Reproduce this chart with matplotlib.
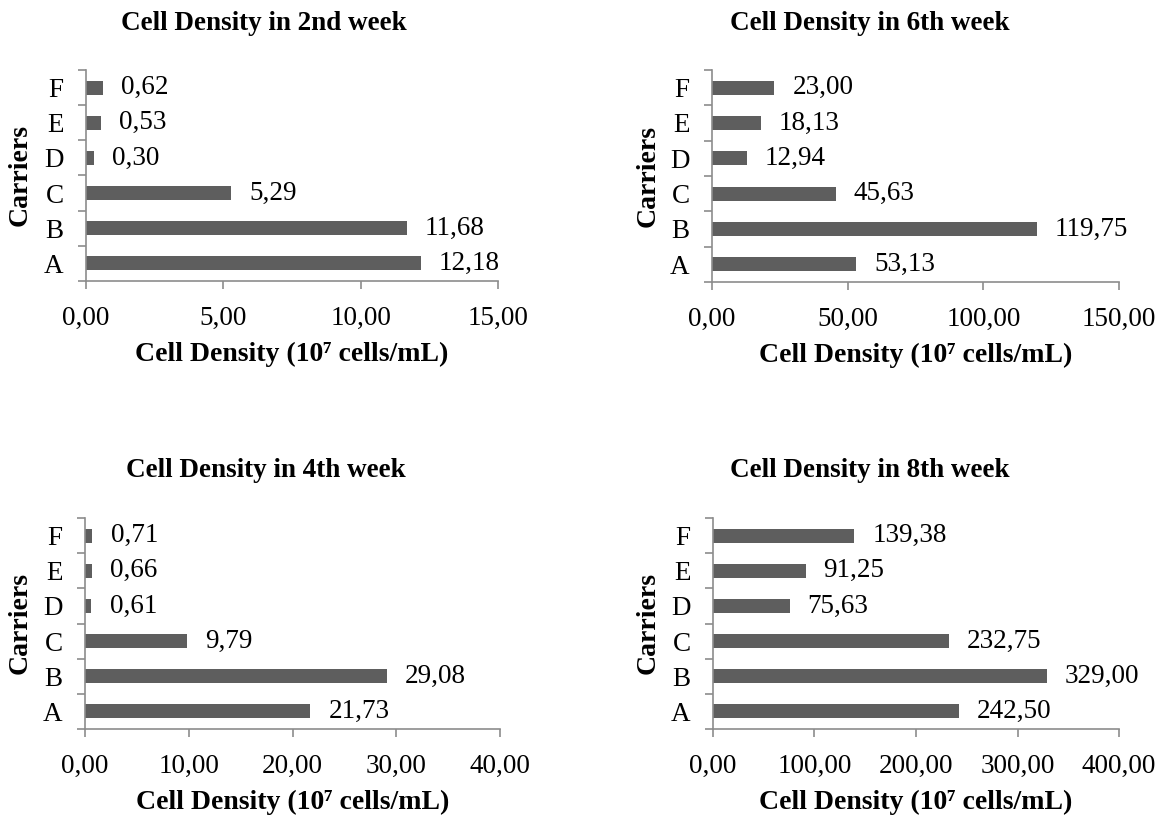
import matplotlib
matplotlib.use("Agg")
import matplotlib.pyplot as plt

plt.rcParams['font.family'] = ['Liberation Serif', 'DejaVu Serif']

carriers = ["A", "B", "C", "D", "E", "F"]
week2 = [12.18, 11.68, 5.29, 0.30, 0.53, 0.62]
week4 = [21.73, 29.08, 9.79, 0.61, 0.66, 0.71]
week6 = [53.13, 119.75, 45.63, 12.94, 18.13, 23.00]
week8 = [242.50, 329.00, 232.75, 75.63, 91.25, 139.38]

ticks2 = [0, 5, 10, 15]
ticks4 = [0, 10, 20, 30, 40]
ticks6 = [0, 50, 100, 150]
ticks8 = [0, 100, 200, 300, 400]

W, H = 1166, 818
fig = plt.figure(figsize=(W / 100, H / 100), dpi=100)

bar_col = '#5e5e5e'
spine_col = '#8c8c8c'


def comma(v):
    return f"{v:.2f}".replace('.', ',')


def panel(box, vals, ticks, title, title_xy, ylab_x):
    # box = (left, top, right, bottom) in pixels
    l, t, r, b = box
    rect = [l / W, 1 - b / H, (r - l) / W, (b - t) / H]
    ax = fig.add_axes(rect)
    y = list(range(len(carriers)))
    ax.barh(y, vals, height=0.4, color=bar_col)
    ax.set_xlim(ticks[0], ticks[-1])
    ax.set_ylim(-0.5, len(carriers) - 0.5)
    ax.set_xticks(ticks)
    ax.set_xticklabels([comma(t) for t in ticks], fontsize=19.5)
    ax.set_yticks(y)
    ax.set_yticklabels(carriers, fontsize=19.5)
    ax.set_yticks([i - 0.5 for i in range(len(carriers) + 1)], minor=True)
    ax.tick_params(axis='y', which='major', length=0, pad=16)
    ax.tick_params(axis='y', which='minor', length=6, color=spine_col, width=1.2)
    ax.tick_params(axis='x', length=6, color=spine_col, width=1.2, pad=12)
    for s in ['top', 'right']:
        ax.spines[s].set_visible(False)
    for s in ['left', 'bottom']:
        ax.spines[s].set_color(spine_col)
        ax.spines[s].set_linewidth(1.2)
    off = ticks[-1] * 0.044
    for yi, v in zip(y, vals):
        ax.text(v + off, yi, comma(v), va='center', ha='left', fontsize=19.5)
    ax.set_xlabel("Cell Density (10⁷ cells/mL)", fontsize=20, fontweight='bold', labelpad=8)
    fig.text(title_xy[0] / W, 1 - title_xy[1] / H, title, ha='center', va='center',
             fontsize=19.5, fontweight='bold')
    fig.text(ylab_x / W, rect[1] + rect[3] / 2, "Carriers", rotation=90, ha='center',
             va='center', fontsize=20, fontweight='bold')
    return ax


panel((86, 70, 498, 281), week2, ticks2, "Cell Density in 2nd week", (264, 23), 20)
panel((712, 70, 1119, 282), week6, ticks6, "Cell Density in 6th week", (870, 23), 648)
panel((85, 518, 500, 729), week4, ticks4, "Cell Density in 4th week", (266, 470), 20)
panel((713, 518, 1119, 729), week8, ticks8, "Cell Density in 8th week", (870, 470), 648)

fig.savefig("out.png", dpi=100)
